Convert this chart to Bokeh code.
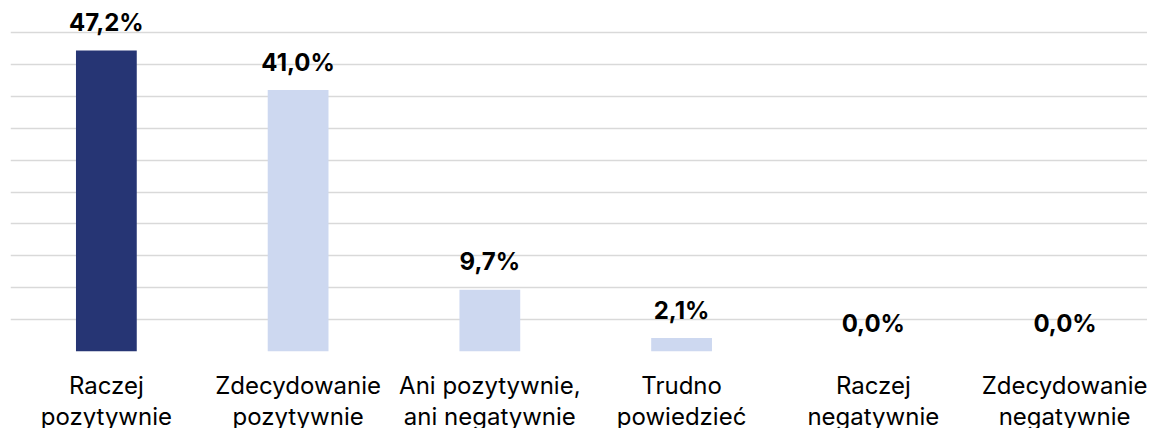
from bokeh.plotting import figure
from bokeh.models import ColumnDataSource, Range1d, FixedTicker
from bokeh.core.properties import value
from bokeh.embed import file_html
from bokeh.resources import INLINE

categories = ["Raczej\npozytywnie", "Zdecydowanie\npozytywnie", "Ani pozytywnie,\nani negatywnie",
              "Trudno\npowiedzieć", "Raczej\nnegatywnie", "Zdecydowanie\nnegatywnie"]
values = [47.2, 41.0, 9.7, 2.1, 0.0, 0.0]
grid_ticks = [0, 5, 10, 15, 20, 25, 30, 35, 40, 45, 50]

DARK = "#263574"
LIGHT = "#CDD8F0"
FONT = "Inter"

xs = list(range(len(categories)))
labels = [f"{v:.1f}%".replace(".", ",") for v in values]
colors = [DARK] + [LIGHT] * (len(values) - 1)

src = ColumnDataSource(dict(x=xs, v=values, lab=labels, c=colors))

p = figure(frame_width=1137, frame_height=343, output_backend="svg", toolbar_location=None,
           x_range=Range1d(-0.5, 5.43), y_range=Range1d(0, 53.8),
           min_border_left=10, min_border_right=0, min_border_top=8, min_border_bottom=0)
p.outline_line_color = None
p.background_fill_color = "white"
p.border_fill_color = "white"

p.xgrid.visible = False
p.yaxis.visible = False
p.ygrid.ticker = FixedTicker(ticks=grid_ticks)
p.ygrid.grid_line_color = "#D9D9D9"
p.ygrid.grid_line_width = 1.5

p.vbar(x="x", top="v", width=0.317, fill_color="c", line_color=None, source=src)
p.text(x="x", y="v", text="lab", source=src, text_align="center", text_baseline="alphabetic",
       y_offset=-28, text_font=value(FONT), text_font_style="bold", text_font_size="24px",
       text_color="black")

ax = p.xaxis[0]
ax.ticker = FixedTicker(ticks=xs)
ax.major_label_overrides = {i: c for i, c in zip(xs, categories)}
ax.axis_line_color = None
ax.major_tick_line_color = None
ax.minor_tick_line_color = None
ax.major_label_text_font = FONT
ax.major_label_text_font_size = "24px"
ax.major_label_text_color = "black"
ax.major_label_standoff = 13
ax.major_label_text_line_height = 1.08

open("out.html", "w").write(file_html(p, INLINE))
